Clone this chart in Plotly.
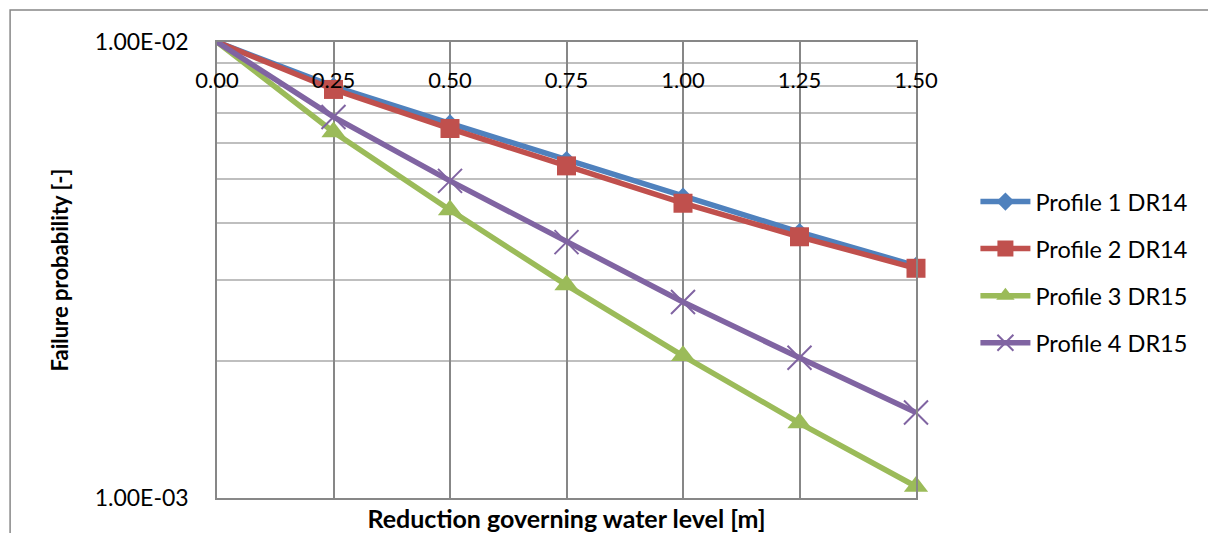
import plotly.graph_objects as go

x_vals = [0.0, 0.25, 0.50, 0.75, 1.00, 1.25, 1.50]
x_labels = ["0.00", "0.25", "0.50", "0.75", "1.00", "1.25", "1.50"]

profile1_dr14 = [1.00e-2, 7.99e-3, 6.63e-3, 5.51e-3, 4.58e-3, 3.83e-3, 3.23e-3]
profile2_dr14 = [1.00e-2, 7.87e-3, 6.46e-3, 5.35e-3, 4.43e-3, 3.74e-3, 3.19e-3]
profile3_dr15 = [1.00e-2, 6.35e-3, 4.28e-3, 2.93e-3, 2.05e-3, 1.46e-3, 1.06e-3]
profile4_dr15 = [1.00e-2, 6.85e-3, 4.96e-3, 3.64e-3, 2.69e-3, 2.03e-3, 1.54e-3]

y_major = [1e-3, 1e-2]
y_major_labels = ["1.00E-03", "1.00E-02"]
y_minor = [2e-3, 3e-3, 4e-3, 5e-3, 6e-3, 7e-3, 8e-3, 9e-3]

FONT = "Lato"

series = [
    ("Profile 1 DR14", profile1_dr14, "#4F81BD", dict(symbol="diamond", size=14)),
    ("Profile 2 DR14", profile2_dr14, "#C0504D", dict(symbol="square", size=19)),
    ("Profile 3 DR15", profile3_dr15, "#9BBB59", dict(symbol="triangle-up", size=21)),
    ("Profile 4 DR15", profile4_dr15, "#8064A2", dict(symbol="x-thin", size=24)),
]

fig = go.Figure()
for i, (name, ys, color, mk) in enumerate(series):
    marker = dict(color=color, symbol=mk["symbol"], size=mk["size"])
    if mk["symbol"] == "x-thin":
        marker["line"] = dict(color=color, width=2)
    else:
        marker["line"] = dict(width=0)
    fig.add_trace(go.Scatter(
        x=x_vals, y=ys, name=name, mode="lines+markers",
        line=dict(color=color, width=5.5),
        marker=marker, legendgroup=f"g{i}", cliponaxis=False,
    ))

# invisible trace hosting the top axis labels
fig.add_trace(go.Scatter(x=x_vals, y=profile1_dr14, xaxis="x2", yaxis="y",
                         mode="none", showlegend=False, hoverinfo="skip"))

fig.update_layout(
    width=1216, height=533,
    margin=dict(l=209, r=308, t=34, b=43),
    paper_bgcolor="white", plot_bgcolor="white",
    font=dict(family=FONT, size=22, color="black"),
    showlegend=True,
    legend=dict(
        x=1.085, y=0.495, xanchor="left", yanchor="middle",
        font=dict(family=FONT, size=23.5, color="black"),
        traceorder="grouped", tracegroupgap=13.5, itemwidth=50,
        bgcolor="rgba(0,0,0,0)",
    ),
    xaxis=dict(
        range=[0, 1.5], tickvals=x_vals, showticklabels=False,
        showgrid=True, gridcolor="#878787", gridwidth=1.5,
        showline=True, linecolor="#878787", linewidth=1.5, mirror=True,
        zeroline=False, ticks="",
        title=dict(text="<b>Reduction governing water level [m]</b>",
                   font=dict(family=FONT, size=25, color="black"), standoff=12),
    ),
    xaxis2=dict(
        overlaying="x", side="top", matches="x", range=[0, 1.5],
        tickvals=x_vals, ticktext=x_labels, ticklabelposition="inside",
        ticklabelstandoff=28, ticklabeloverflow="allow",
        showgrid=False, showline=False, zeroline=False, ticks="",
        tickfont=dict(family=FONT, size=22, color="black"),
    ),
    yaxis=dict(
        type="log", range=[-3, -2], tickvals=y_major, ticktext=y_major_labels,
        showgrid=False, showline=True, linecolor="#878787", linewidth=1.5,
        mirror=True, ticks="", ticklabelstandoff=22, ticklabeloverflow="allow",
        tickfont=dict(family=FONT, size=23, color="black"),
        minor=dict(tickvals=y_minor, showgrid=True, gridcolor="#BFBFBF",
                   gridwidth=1.5, ticks=""),
        title=dict(text="<b>Failure probability [-]</b>",
                   font=dict(family=FONT, size=22, color="black"), standoff=20),
    ),
    shapes=[dict(type="rect", xref="paper", yref="paper",
                 x0=-0.296, x1=1.46, y0=-0.15, y1=1.07,
                 line=dict(color="#878787", width=1.5), layer="below")],
)

fig.write_html("out.html")
